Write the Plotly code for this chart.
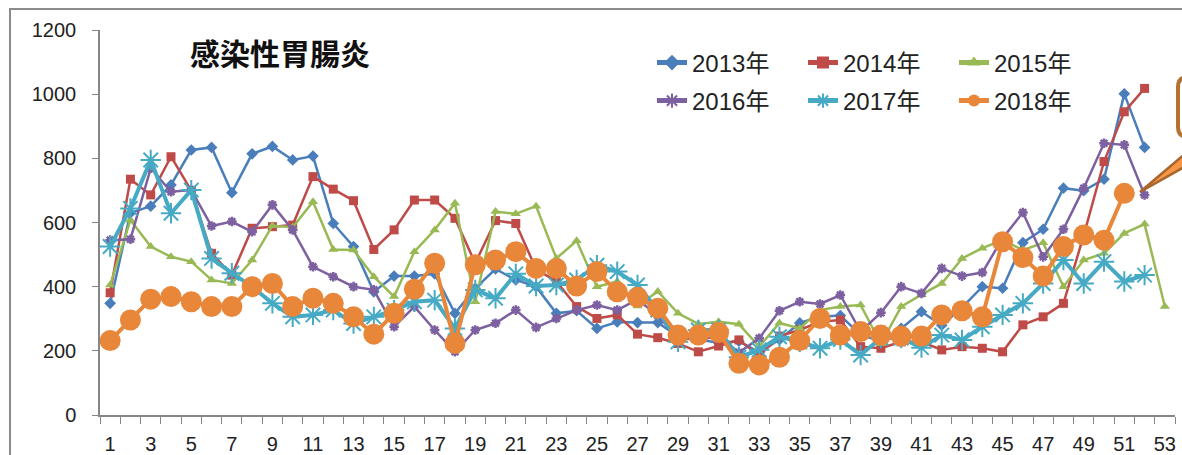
import plotly.graph_objects as go

weeks = list(range(1, 54))
week_ticks = list(range(1, 54, 2))

v2013 = [348, 630, 651, 717, 826, 834, 693, 814, 837, 795,
         807, 597, 525, 384, 433, 433, 440, 317, 395, 455,
         421, 400, 317, 325, 270, 290, 288, 288, 245, 235,
         225, 230, 195, 235, 287, 306, 310, 250, 230, 270,
         322, 280, 335, 400, 395, 537, 579, 707, 699, 735, 1001, 834]
v2014 = [381, 735, 686, 805, 700, 504, 436, 582, 587, 592,
         743, 704, 668, 516, 577, 670, 670, 613, 473, 606,
         597, 455, 416, 338, 301, 312, 252, 241, 223, 197,
         215, 234, 185, 246, 265, 291, 296, 213, 208, 228,
         228, 203, 213, 208, 197, 281, 306, 348, 560, 790, 945, 1018]
v2015 = [405, 608, 525, 493, 478, 421, 410, 483, 590, 585,
         665, 516, 514, 431, 369, 509, 577, 660, 353, 634,
         627, 651, 488, 543, 400, 416, 340, 385, 317, 284,
         291, 283, 213, 287, 270, 327, 338, 343, 222, 338,
         375, 410, 488, 520, 545, 514, 537, 400, 483, 504, 566, 595, 338]
v2016 = [545, 548, 769, 696, 701, 589, 603, 571, 655, 577,
         462, 431, 400, 390, 275, 338, 265, 197, 265, 286,
         327, 273, 301, 327, 343, 327, 360, 310, 240, 235,
         245, 195, 239, 325, 353, 346, 374, 260, 319, 400,
         379, 457, 433, 444, 551, 631, 493, 579, 707, 847, 842, 686]
v2017 = [525, 644, 795, 629, 701, 488, 442, 400, 348, 306,
         312, 327, 285, 306, 327, 353, 358, 270, 390, 364,
         440, 402, 405, 421, 467, 447, 405, 327, 228, 265,
         265, 180, 203, 244, 228, 208, 235, 187, 240, 240,
         210, 249, 234, 275, 312, 348, 410, 483, 410, 478, 416, 436]
v2018 = [232, 296, 361, 369, 353, 338, 338, 400, 410, 338,
         364, 348, 306, 252, 317, 392, 473, 223, 468, 483,
         509, 457, 457, 402, 447, 384, 367, 333, 249, 249,
         257, 161, 156, 180, 232, 301, 249, 260, 249, 246,
         246, 312, 325, 306, 540, 491, 433, 525, 561, 545, 691]

names = ["2013年", "2014年", "2015年", "2016年", "2017年", "2018年"]
series = [v2013, v2014, v2015, v2016, v2017, v2018]
colors = ["#4A7EBB", "#BE4B48", "#98B954", "#7D60A0", "#46AAC5", "#E8863A"]
symbols = ["diamond", "square", "triangle-up", "asterisk-open", "asterisk-open", "circle"]
msizes = [9, 9, 9, 8, 17, 21]
lwidths = [2.5, 2.5, 2.5, 2.5, 4, 4]
legends = ["legend", "legend", "legend", "legend2", "legend2", "legend2"]

W, H = 1182, 455
L, R, T, B = 100, 7, 30, 40
PW, PH = W - L - R, H - T - B

def px(x):
    return (x - L) / PW

def py(y):
    return (H - B - y) / PH

fig = go.Figure()
for name, vals, c, s, ms, lw, lg in zip(names, series, colors, symbols, msizes, lwidths, legends):
    mk = dict(symbol=s, size=ms, color=c)
    if "open" in s:
        mk["line"] = dict(color=c, width=2.5 if ms < 12 else 2)
    fig.add_trace(go.Scatter(
        x=weeks[:len(vals)], y=vals, name=name, mode="lines+markers",
        line=dict(color=c, width=lw), marker=mk, legend=lg))

font = "Liberation Sans, Arial, Noto Sans CJK JP, sans-serif"
leg_common = dict(orientation="h", xanchor="left", yanchor="middle",
                  font=dict(family="Liberation Sans, Noto Sans CJK JP", size=24, color="#222"),
                  entrywidth=106, entrywidthmode="pixels", bgcolor="rgba(0,0,0,0)",
                  itemsizing="constant", tracegroupgap=0)

shapes = [
    dict(type="rect", xref="paper", yref="paper", x0=px(10), y0=py(475), x1=px(1200), y1=py(9),
         line=dict(color="#8C8C8C", width=2), fillcolor="rgba(0,0,0,0)", layer="below"),
    dict(type="path", xref="paper", yref="paper",
         path="M {a},{b} L {c},{d} L {e},{f} Z".format(a=px(1140), b=py(192), c=px(1200), d=py(141),
                                                        e=px(1200), f=py(158)),
         fillcolor="#F79646", line=dict(color="#A9652B", width=2.5)),
    dict(type="path", xref="paper", yref="paper",
         path="M {a},{b} L {c},{b} Q {d},{b} {d},{e} L {d},{f} Q {d},{g} {c},{g} L {a},{g} Z".format(
             a=px(1200), b=py(77), c=px(1188), d=px(1178), e=py(87), f=py(127), g=py(137)),
         fillcolor="white", line=dict(color="#B5722F", width=4)),
]

fig.update_layout(
    width=W, height=H, autosize=False,
    margin=dict(l=L, r=R, t=T, b=B, autoexpand=False),
    paper_bgcolor="white", plot_bgcolor="white",
    font=dict(family=font, size=20, color="#222"),
    showlegend=True,
    legend=dict(x=px(652), y=py(63), **leg_common),
    legend2=dict(x=px(652), y=py(101), **leg_common),
    shapes=shapes,
    annotations=[dict(text="<b>感染性胃腸炎</b>", xref="paper", yref="paper",
                      x=px(188), y=py(52), xanchor="left", yanchor="middle", showarrow=False,
                      font=dict(family="Noto Sans CJK JP", size=30, color="#111"))],
)
fig.update_xaxes(range=[0.5, 53.5], tickmode="array", tickvals=week_ticks, automargin=False,
                 ticks="outside", ticklen=10, tickcolor="rgba(0,0,0,0)",
                 showline=True, linecolor="#868686", linewidth=1.5, showgrid=False, zeroline=False,
                 tickfont=dict(size=20, color="#222"),
                 minor=dict(tickmode="linear", tick0=0.5, dtick=1, ticks="outside", ticklen=7,
                            tickcolor="#868686", tickwidth=1.2, showgrid=False))
fig.update_yaxes(range=[0, 1200], tickmode="linear", tick0=0, dtick=200, automargin=False,
                 ticks="outside", ticklen=6, tickcolor="#868686", tickwidth=1.2,
                 ticklabelstandoff=12,
                 showline=True, linecolor="#868686", linewidth=1.5, showgrid=False, zeroline=False,
                 tickfont=dict(size=20, color="#222"))

fig.write_html("out.html", config={"displayModeBar": False},
               post_script="document.body.style.margin='0';document.body.style.overflow='hidden';")
